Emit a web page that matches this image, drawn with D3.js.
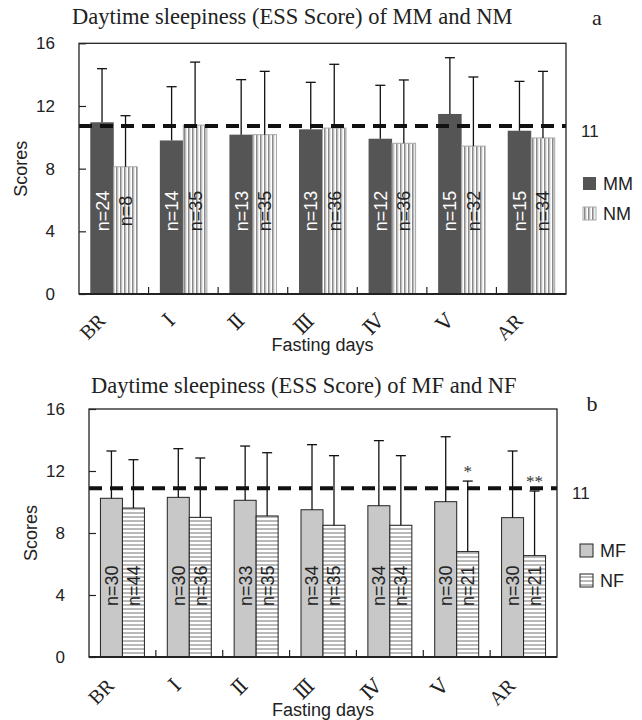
<!DOCTYPE html>
<html>
<head>
<meta charset="utf-8">
<script src="https://cdn.jsdelivr.net/npm/d3@7"></script>
<style>
  body { margin: 0; background: #fff; }
  text { font-family: "Liberation Sans", Arial, sans-serif; }
  .serif { font-family: "Liberation Serif", "DejaVu Serif", serif; }
</style>
</head>
<body>
<svg id="chart" width="642" height="720"></svg>
<script>
const days = ["BR", "Ⅰ", "Ⅱ", "Ⅲ", "Ⅳ", "Ⅴ", "AR"];
const yTicks = [0, 4, 8, 12, 16];

// panel a
const mmMean = [10.96, 9.8, 10.17, 10.51, 9.91, 11.49, 10.42];
const mmUpper = [14.38, 13.23, 13.68, 13.51, 13.32, 15.08, 13.57];
const mmN = [24, 14, 13, 13, 12, 15, 15];
const nmMean = [8.12, 10.78, 10.17, 10.59, 9.62, 9.44, 9.96];
const nmUpper = [11.38, 14.8, 14.21, 14.66, 13.66, 13.85, 14.21];
const nmN = [8, 35, 35, 36, 36, 32, 34];

// panel b
const mfMean = [10.24, 10.3, 10.11, 9.5, 9.76, 10.02, 8.99];
const mfUpper = [13.29, 13.44, 13.61, 13.7, 13.96, 14.21, 13.29];
const mfN = [30, 30, 33, 34, 34, 30, 30];
const nfMean = [9.61, 9.01, 9.1, 8.5, 8.5, 6.8, 6.54];
const nfUpper = [12.73, 12.84, 13.18, 12.99, 12.99, 11.35, 10.71];
const nfN = [44, 36, 35, 35, 34, 21, 21];
const nfStars = ["", "", "", "", "", "*", "**"];

const cutoffLine = [10.72, 10.88];
const cutoffLabel = "11";

const svg = d3.select("#chart");
const defs = svg.append("defs");

const vp = defs.append("pattern").attr("id", "vstripe")
    .attr("patternUnits", "userSpaceOnUse").attr("width", 4).attr("height", 4);
vp.append("rect").attr("width", 4).attr("height", 4).attr("fill", "#fff");
vp.append("rect").attr("x", 0).attr("width", 1.6).attr("height", 4).attr("fill", "#8a8a8a");
vp.append("rect").attr("x", 1.6).attr("width", 0.8).attr("height", 4).attr("fill", "#c4c4c4");

const hp = defs.append("pattern").attr("id", "hstripe")
    .attr("patternUnits", "userSpaceOnUse").attr("width", 4).attr("height", 4);
hp.append("rect").attr("width", 4).attr("height", 4).attr("fill", "#fff");
hp.append("rect").attr("y", 0).attr("width", 4).attr("height", 2).attr("fill", "#b9b9b9");

function drawPanel(p) {
    const g = svg.append("g");

    const x = d3.scaleBand().domain(days).range([p.left, p.right]);
    const xs = d3.scaleBand().domain([0, 1]).range([0, x.bandwidth()])
        .paddingInner(0).paddingOuter(p.outer);
    const y = d3.scaleLinear().domain([0, 16]).range([p.bottom, p.top]);

    // title
    g.append("text").attr("class", "serif")
        .attr("x", p.titleX).attr("y", p.titleY)
        .attr("font-size", 22.5).attr("fill", "#222")
        .text(p.title);
    g.append("text").attr("class", "serif")
        .attr("x", p.letterX).attr("y", p.letterY)
        .attr("font-size", 22).attr("text-anchor", "middle").attr("fill", "#222")
        .text(p.letter);

    // bars
    p.series.forEach((s, si) => {
        g.selectAll(null).data(s.mean).join("rect")
            .attr("x", (d, i) => x(days[i]) + xs(si))
            .attr("y", d => y(d))
            .attr("width", xs.bandwidth())
            .attr("height", d => y(0) - y(d))
            .attr("fill", s.fill)
            .attr("stroke", s.stroke)
            .attr("stroke-width", s.stroke === "none" ? 0 : 1);
    });

    // error bars (upper only)
    p.series.forEach((s, si) => {
        const cx = i => x(days[i]) + xs(si) + xs.bandwidth() / 2;
        g.selectAll(null).data(s.upper).join("line")
            .attr("x1", (d, i) => cx(i)).attr("x2", (d, i) => cx(i))
            .attr("y1", (d, i) => y(s.mean[i])).attr("y2", d => y(d))
            .attr("stroke", "#111").attr("stroke-width", 1.3);
        g.selectAll(null).data(s.upper).join("line")
            .attr("x1", (d, i) => cx(i) - 5).attr("x2", (d, i) => cx(i) + 5)
            .attr("y1", d => y(d)).attr("y2", d => y(d))
            .attr("stroke", "#111").attr("stroke-width", 1.3);
        // n labels
        g.selectAll(null).data(s.n).join("text")
            .attr("transform", (d, i) => `translate(${cx(i)},${y(p.nAt)}) rotate(-90)`)
            .attr("text-anchor", "middle").attr("dy", "0.36em")
            .attr("font-size", 18).attr("fill", s.textColor)
            .text(d => `n=${d}`);
        if (s.stars) {
            g.selectAll(null).data(s.stars).join("text").attr("class", "serif")
                .attr("x", (d, i) => cx(i)).attr("y", (d, i) => y(s.upper[i]) - 4)
                .attr("text-anchor", "middle").attr("font-size", 17).attr("fill", "#333")
                .text(d => d);
        }
    });

    // cutoff line
    g.append("line")
        .attr("x1", p.left).attr("x2", p.right)
        .attr("y1", y(p.cutoff)).attr("y2", y(p.cutoff))
        .attr("stroke", "#111").attr("stroke-width", 4)
        .attr("stroke-dasharray", "13,8");
    g.append("text").attr("x", p.right + 15).attr("y", y(p.cutoff) + 11)
        .attr("font-size", 17).attr("fill", "#222").text(cutoffLabel);

    // frame
    g.append("rect").attr("x", p.left).attr("y", p.top)
        .attr("width", p.right - p.left).attr("height", p.bottom - p.top)
        .attr("fill", "none").attr("stroke", "#222").attr("stroke-width", 1.3);
    g.append("line").attr("x1", p.left).attr("x2", p.right)
        .attr("y1", p.bottom).attr("y2", p.bottom)
        .attr("stroke", "#222").attr("stroke-width", 2);

    // y axis
    const yAxis = g.append("g")
        .attr("transform", `translate(${p.left},0)`)
        .call(d3.axisRight(y).tickValues(yTicks).tickSize(7).tickFormat(""));
    yAxis.select(".domain").remove();
    yAxis.selectAll("line").attr("stroke", "#222").attr("stroke-width", 1.2);
    g.selectAll(null).data(yTicks).join("text")
        .attr("x", p.left - 24).attr("y", d => y(d) + 6)
        .attr("text-anchor", "end").attr("font-size", 17).attr("fill", "#222")
        .text(d => d);

    // x ticks at group boundaries
    g.selectAll(null).data(days.slice(1)).join("line")
        .attr("x1", d => x(d)).attr("x2", d => x(d))
        .attr("y1", p.bottom).attr("y2", p.bottom - 7)
        .attr("stroke", "#222").attr("stroke-width", 1.2);

    // x labels
    g.selectAll(null).data(days).join("text").attr("class", "serif")
        .attr("transform", d => `translate(${x(d) + x.bandwidth() / 2 - 7},${p.bottom + p.xLabelDy}) rotate(-45)`)
        .attr("text-anchor", "end").attr("font-size", 20).attr("fill", "#222")
        .text(d => d);

    g.append("text")
        .attr("x", (p.left + p.right) / 2).attr("y", p.bottom + p.xTitleDy)
        .attr("text-anchor", "middle").attr("font-size", 18).attr("fill", "#222")
        .text("Fasting days");

    g.append("text")
        .attr("transform", `translate(${p.left - 58},${(p.top + p.bottom) / 2}) rotate(-90)`)
        .attr("text-anchor", "middle").attr("dy", "0.35em")
        .attr("font-size", 18).attr("fill", "#222")
        .text("Scores");

    // legend
    p.series.forEach((s, si) => {
        const ly = p.legendY + si * 30;
        g.append("rect").attr("x", p.legendX).attr("y", ly)
            .attr("width", 13).attr("height", 13)
            .attr("fill", s.fill).attr("stroke", s.stroke === "none" ? "none" : s.stroke)
            .attr("stroke-width", 1);
        g.append("text").attr("x", p.legendX + 20).attr("y", ly + 13)
            .attr("font-size", 18).attr("fill", "#222").text(s.name);
    });
}

drawPanel({
    left: 79, right: 566, top: 43.3, bottom: 294, outer: 0.48,
    title: "Daytime sleepiness (ESS Score) of MM and NM", titleX: 72, titleY: 24,
    letter: "a", letterX: 597, letterY: 25,
    cutoff: cutoffLine[0], nAt: 5.3, xLabelDy: 28, xTitleDy: 57,
    legendX: 583, legendY: 177,
    series: [
        { name: "MM", mean: mmMean, upper: mmUpper, n: mmN, fill: "#555555", stroke: "none", textColor: "#fff" },
        { name: "NM", mean: nmMean, upper: nmUpper, n: nmN, fill: "url(#vstripe)", stroke: "#a8a8a8", textColor: "#222" }
    ]
});

drawPanel({
    left: 89, right: 557, top: 409, bottom: 657, outer: 0.52,
    title: "Daytime sleepiness (ESS Score) of MF and NF", titleX: 91, titleY: 393,
    letter: "b", letterX: 592, letterY: 411,
    cutoff: cutoffLine[1], nAt: 4.6, xLabelDy: 30, xTitleDy: 59,
    legendX: 580, legendY: 544,
    series: [
        { name: "MF", mean: mfMean, upper: mfUpper, n: mfN, fill: "#c8c8c8", stroke: "#222", textColor: "#222" },
        { name: "NF", mean: nfMean, upper: nfUpper, n: nfN, fill: "url(#hstripe)", stroke: "#222", textColor: "#222", stars: nfStars }
    ]
});
</script>
</body>
</html>
